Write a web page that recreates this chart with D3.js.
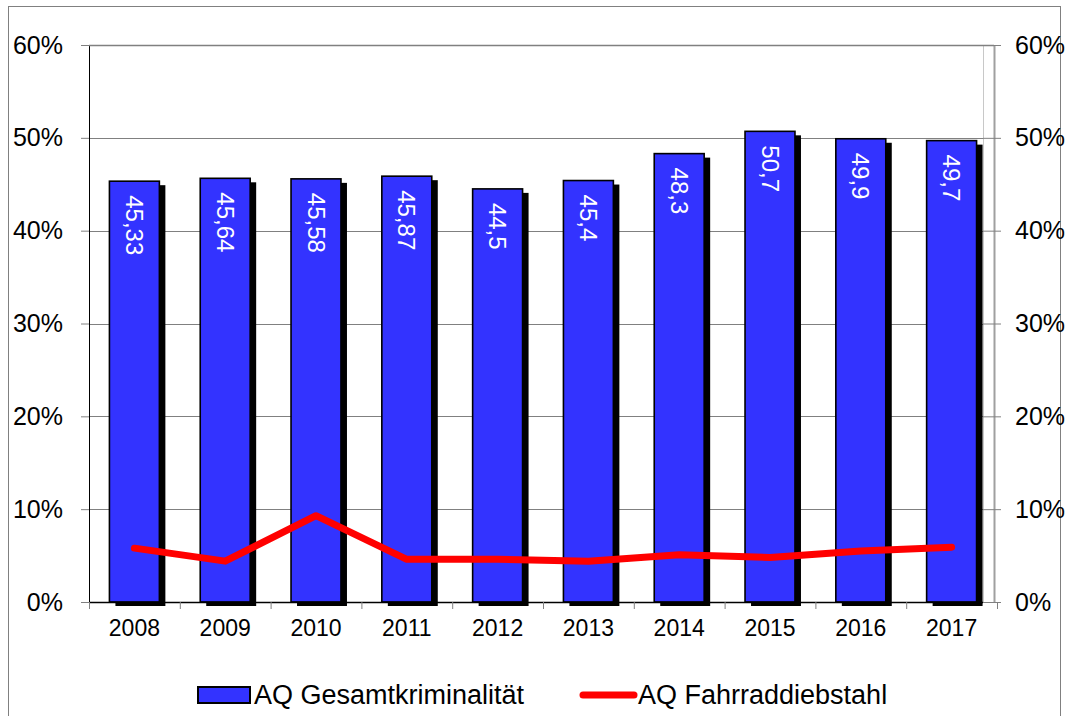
<!DOCTYPE html>
<meta charset="utf-8">
<style>
    body { margin: 0; background: #fff; }
    text { font-family: "Liberation Sans", Arial, sans-serif; }
</style>
<div id="chart"></div>
<script src="https://d3js.org/d3.v7.min.js"></script>
<script>
    var years = ["2008","2009","2010","2011","2012","2013","2014","2015","2016","2017"];
    var gesamt = [45.33, 45.64, 45.58, 45.87, 44.5, 45.4, 48.3, 50.7, 49.9, 49.7];
    var gesamtLabels = ["45,33","45,64","45,58","45,87","44,5","45,4","48,3","50,7","49,9","49,7"];
    var fahrrad = [5.8, 4.4, 9.3, 4.6, 4.6, 4.4, 5.1, 4.8, 5.5, 5.9];
    var yTicks = [0, 10, 20, 30, 40, 50, 60];
    var seriesNames = ["AQ Gesamtkriminalität", "AQ Fahrraddiebstahl"];

    var W = 1068, H = 716;
    var plotLeft = 89, plotRight = 983, rightAxis = 994, plotTop = 45, plotBottom = 602;

    var svg = d3.select("#chart").append("svg")
        .attr("width", W)
        .attr("height", H);

    // outer frame
    svg.append("rect")
        .attr("x", 8.5).attr("y", 6.5)
        .attr("width", 1052).attr("height", 720)
        .attr("fill", "none").attr("stroke", "#808080");

    var x = d3.scaleBand()
        .domain(years)
        .range([plotLeft, plotLeft + 908])
        .paddingInner(0.45)
        .paddingOuter(0.225);

    var y = d3.scaleLinear()
        .domain([0, 60])
        .range([plotBottom, plotTop]);

    // gridlines
    svg.append("g").selectAll("line")
        .data(yTicks.slice(1))
        .enter().append("line")
        .attr("x1", plotLeft).attr("x2", plotRight)
        .attr("y1", function(d) { return Math.round(y(d)) + 0.5; })
        .attr("y2", function(d) { return Math.round(y(d)) + 0.5; })
        .attr("stroke", "#808080");

    // plot area right edge
    svg.append("line")
        .attr("x1", plotRight + 0.5).attr("x2", plotRight + 0.5)
        .attr("y1", plotTop).attr("y2", plotBottom)
        .attr("stroke", "#c8c8c8");

    // bars with shadow
    var bars = svg.append("g").selectAll("g")
        .data(years)
        .enter().append("g");

    bars.append("rect")
        .attr("x", function(d) { return x(d) + 6; })
        .attr("y", function(d, i) { return y(gesamt[i]) + 4; })
        .attr("width", x.bandwidth())
        .attr("height", function(d, i) { return plotBottom - y(gesamt[i]); })
        .attr("fill", "#000");

    bars.append("rect")
        .attr("x", function(d) { return x(d); })
        .attr("y", function(d, i) { return y(gesamt[i]); })
        .attr("width", x.bandwidth())
        .attr("height", function(d, i) { return plotBottom - y(gesamt[i]); })
        .attr("fill", "#3333ff")
        .attr("stroke", "#000")
        .attr("stroke-width", 1.6);

    bars.append("text")
        .attr("transform", function(d, i) {
            return "translate(" + (x(d) + x.bandwidth() / 2) + "," + (y(gesamt[i]) + 14) + ") rotate(90)";
        })
        .attr("dy", "0.35em")
        .attr("fill", "#fff")
        .style("font-size", "24px")
        .text(function(d, i) { return gesamtLabels[i]; });

    // left axis
    var yAxisL = svg.append("g")
        .attr("transform", "translate(" + plotLeft + ",0)")
        .call(d3.axisLeft(y).tickValues(yTicks).tickSize(8).tickPadding(18)
            .tickFormat(function(d) { return d + "%"; }));
    yAxisL.select(".domain").attr("stroke", "#000").attr("d", "M0.5," + plotTop + "V" + (plotBottom + 6));
    yAxisL.selectAll(".tick line").attr("stroke", "#808080");
    yAxisL.selectAll("text").style("font-size", "25px").attr("fill", "#000");

    // right axis
    var yAxisR = svg.append("g")
        .attr("transform", "translate(" + rightAxis + ",0)")
        .call(d3.axisRight(y).tickValues(yTicks).tickSize(7).tickPadding(14)
            .tickFormat(function(d) { return d + "%"; }));
    yAxisR.select(".domain").attr("stroke", "#a0a0a0").attr("stroke-width", 2).attr("d", "M0.5," + plotTop + "V" + plotBottom);
    yAxisR.selectAll(".tick line").attr("stroke", "#808080").attr("x1", -11);
    yAxisR.selectAll("text").style("font-size", "25px").attr("fill", "#000");

    // top edge
    svg.append("line")
        .attr("x1", plotLeft).attr("x2", rightAxis)
        .attr("y1", plotTop + 0.5).attr("y2", plotTop + 0.5)
        .attr("stroke", "#808080").attr("stroke-width", 1.5);

    // x axis
    var xAxis = svg.append("g")
        .attr("transform", "translate(0," + plotBottom + ")")
        .call(d3.axisBottom(x).tickSize(0).tickPadding(18));
    xAxis.select(".domain").attr("stroke", "#000").attr("stroke-width", 1.5)
        .attr("d", "M" + plotLeft + ",0.5H" + plotRight);
    xAxis.selectAll("text").style("font-size", "23px").attr("fill", "#000");

    // x tick marks at band boundaries
    svg.append("g").selectAll("line")
        .data(d3.range(years.length + 1))
        .enter().append("line")
        .attr("x1", function(i) { return plotLeft + i * x.step() + 0.5; })
        .attr("x2", function(i) { return plotLeft + i * x.step() + 0.5; })
        .attr("y1", plotBottom).attr("y2", plotBottom + 7)
        .attr("stroke", "#808080");

    // line series
    var line = d3.line()
        .x(function(d, i) { return x(years[i]) + x.bandwidth() / 2; })
        .y(function(d) { return y(d); });

    svg.append("path")
        .datum(fahrrad)
        .attr("d", line)
        .attr("fill", "none")
        .attr("stroke", "#ff0000")
        .attr("stroke-width", 7)
        .attr("stroke-linejoin", "round")
        .attr("stroke-linecap", "round");

    // legend
    var legend = svg.append("g");
    legend.append("rect")
        .attr("x", 198).attr("y", 687)
        .attr("width", 52).attr("height", 16)
        .attr("fill", "#3333ff").attr("stroke", "#000").attr("stroke-width", 2);
    legend.append("text")
        .attr("x", 254).attr("y", 704)
        .style("font-size", "27px")
        .text(seriesNames[0]);
    legend.append("line")
        .attr("x1", 583).attr("x2", 634)
        .attr("y1", 695).attr("y2", 695)
        .attr("stroke", "#ff0000").attr("stroke-width", 7).attr("stroke-linecap", "round");
    legend.append("text")
        .attr("x", 638).attr("y", 704)
        .style("font-size", "27px")
        .text(seriesNames[1]);
</script>
